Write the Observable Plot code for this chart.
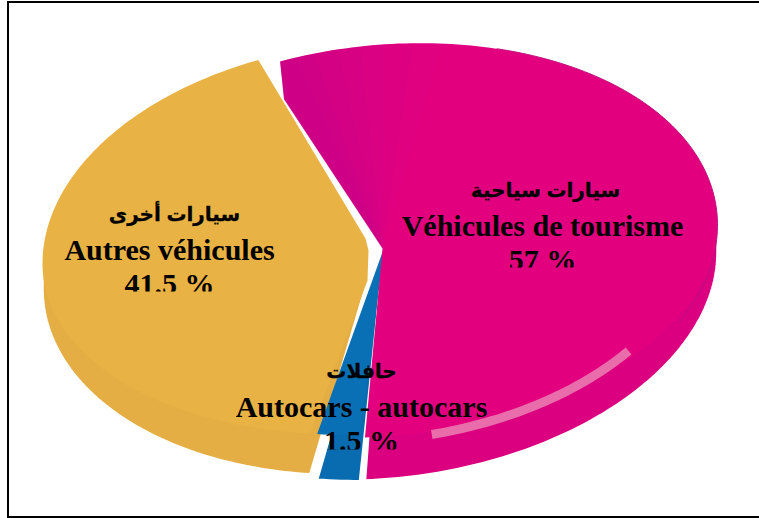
<!DOCTYPE html>
<html><head><meta charset="utf-8">
<style>html,body{margin:0;padding:0;background:#fff}svg{display:block}</style>
<script src="https://cdn.jsdelivr.net/npm/d3@7"></script>
<script src="https://cdn.jsdelivr.net/npm/@observablehq/plot@0.6"></script>
</head><body><div id="chart"></div>
<script>
const categories = ["Véhicules de tourisme", "Autocars - autocars", "Autres véhicules"];
const arabicLabels = ["سيارات سياحية", "حافلات", "سيارات أخرى"];
const shares = [57, 1.5, 41.5];
const shareLabels = ["57 %", "1.5 %", "41.5 %"];
const topColors = ["#e3007f", "#0a70b5", "#e8b244"];
const wallColors = ["#da007f", "#0a6cb0", "#e4ae44"];
const centersX = [382, 384, 370];
const centersY = [248, 246, 245];
const radiiX = [335, 335, 328];
const skews = [0.07, 0.05, 0.055];
const insets = [2.2, -1, 0];
const depths = [27, 30, 25];
const labelX = [542, 361, 169];
const arabicX = [545, 361, 174];
const labelY = [190, 371, 214];
const clipY = [267, 449, 291];

const startDeg = -20, ry = 204, pull = 16;
const rad = d => d * Math.PI / 180;
const pie = d3.pie().sort(null).startAngle(rad(startDeg)).endAngle(rad(startDeg + 360))(shares);

function P(i, a, r = 1, dy = 0, frontPull = 0) {
  const sx = radiiX[i] * r * Math.sin(a);
  const c = Math.cos(a);
  return [centersX[i] + sx, centersY[i] + dy - ry * r * c - skews[i] * sx - (c < 0 ? frontPull * -c : 0)];
}
function arcPts(i, a0, a1, r = 1, dy = 0, frontPull = 0) {
  const n = Math.max(2, Math.ceil((a1 - a0) / 0.02));
  return d3.range(n + 1).map(k => P(i, a0 + (a1 - a0) * k / n, r, dy, frontPull));
}
const toRows = (pts, i) => pts.map(([x, y]) => ({x, y, i}));
const span = i => [pie[i].startAngle + rad(insets[i]), pie[i].endAngle - rad(insets[i])];
const apex = i => {
  const cx = centersX[i], cy = centersY[i];
  if (i === 2) return [[cx - 5, cy - 7], [cx - 2, cy + 5], [cx - 3, cy + 35]];
  return [[cx, cy]];
};
const silhouettes = [], faces = [], shade = [], glow = [], rim = [];
[1, 2, 0].forEach(i => {
  const [a0, a1] = span(i);
  const back0 = i === 0 ? [P(0, a0 - rad(3.2), 0.82)] : [];
  const f0 = Math.max(a0, rad(90)), f1 = Math.min(a1, rad(270));
  const before = a0 < f0 ? arcPts(i, a0, f0) : [];
  const after = a1 > f1 ? arcPts(i, f1, a1) : [];
  const apexPts = apex(i);
  const sil = [...apexPts, ...back0, ...before, ...arcPts(i, f0, f1, 1, depths[i]), ...after];
  silhouettes.push(...toRows(sil, i));
  const face = [...apexPts, ...back0, ...arcPts(i, a0, a1, 1, 0, pull)];
  faces.push(...toRows(face, i));
});
// darker shading along the pink slice's left edge
const shadeWidths = [3, 6, 10, 14, 18, 23, 28];
shadeWidths.forEach((w, k) => {
  const [a0] = span(0);
  const pts = [[centersX[0], centersY[0]], P(0, a0 - rad(3.2), 0.82), ...arcPts(0, a0, a0 + rad(w))];
  pts.forEach(([x, y]) => shade.push({x, y, k}));
});
arcPts(0, rad(128.6), rad(171), 0.94).forEach(([x, y]) => glow.push({x, y}));
arcPts(0, rad(20), rad(118)).forEach(([x, y]) => rim.push({x, y}));

const labels = categories.map((c, i) => ({c, a: arabicLabels[i], p: shareLabels[i], x: labelX[i], ax: arabicX[i], y: labelY[i], clip: clipY[i]}));

const serif = "'Liberation Serif','Times New Roman',serif";
const plot = Plot.plot({
  width: 759, height: 518, margin: 0,
  x: {domain: [0, 759], range: [0, 759], axis: null},
  y: {domain: [0, 518], range: [0, 518], axis: null},
  marks: [
    Plot.rect([{a: 8, b: 2, c: 770, d: 517}], {x1: "a", y1: "b", x2: "c", y2: "d", fill: "none", stroke: "#000", strokeWidth: 2}),
    Plot.line(silhouettes, {x: "x", y: "y", z: "i", fill: d => wallColors[d.i], stroke: "#fff", strokeWidth: 2.5, curve: "linear-closed"}),
    Plot.line(faces, {x: "x", y: "y", z: "i", fill: d => topColors[d.i], stroke: "none", curve: "linear-closed"}),
    ...shadeWidths.map((w, k) => Plot.line(shade.filter(d => d.k === k), {x: "x", y: "y", fill: "#8a1aa0", fillOpacity: 0.035, stroke: "none", curve: "linear-closed"})),
    Plot.line(rim, {x: "x", y: "y", stroke: "#c0107f", strokeWidth: 1}),
    Plot.line(glow, {x: "x", y: "y", stroke: "#e96dab", strokeWidth: 9, strokeLinecap: "butt"}),
    Plot.text(labels, {x: "ax", y: "y", text: "a", fontFamily: "'Liberation Sans','DejaVu Sans',sans-serif", fontWeight: "bold", fontSize: 20, fill: "#000", stroke: "#000", strokeWidth: 0.3}),
    Plot.text(labels, {x: "x", y: d => d.y + 36, text: "c", fontFamily: serif, fontWeight: "bold", fontSize: 30, fill: "#000"}),
    Plot.text(labels, {x: "x", y: d => d.y + 70, text: "p", fontFamily: serif, fontWeight: "bold", fontSize: 30, fill: "#000", className: "pct"})
  ]
});
// the third line of each label is cut off at its lower edge, as in the source image
const defs = d3.select(plot).append("defs");
d3.select(plot).selectAll(".pct text").each(function(_, n) {
  const d = labels[n];
  // clip coordinates are local to each text element, which Plot places by transform
  const local = d.clip - (d.y + 70);
  defs.append("clipPath").attr("id", "cut" + n).append("rect").attr("x", -300).attr("y", -100).attr("width", 600).attr("height", 100 + local);
  d3.select(this).attr("clip-path", `url(#cut${n})`);
});
document.getElementById("chart").append(plot);
</script></body></html>
